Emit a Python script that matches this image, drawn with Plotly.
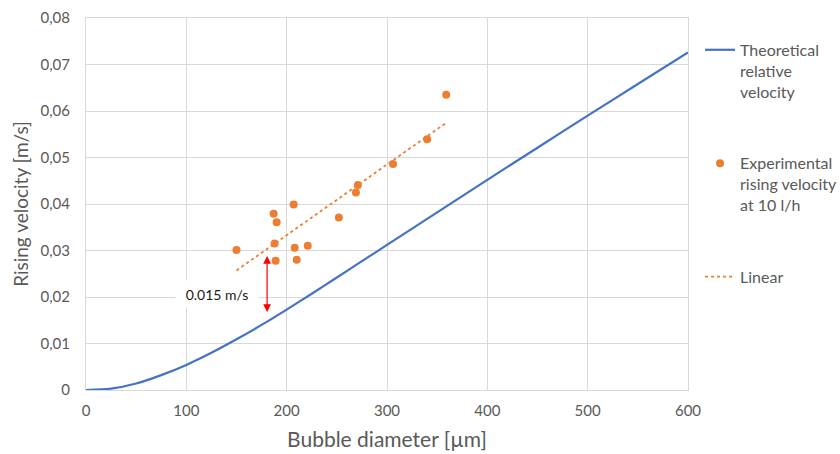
import numpy as np
import plotly.graph_objects as go

# Theoretical relative velocity of a bubble vs. its diameter
theory_d = [0, 25, 50, 75, 100, 125, 150, 175, 200, 225, 250, 275, 300, 350, 400, 450, 500, 550, 600]
theory_v = [0, 0.0003, 0.0014, 0.0032, 0.0054, 0.0080, 0.0109, 0.0140, 0.0173, 0.0207,
            0.0242, 0.0277, 0.0312, 0.0382, 0.0452, 0.0521, 0.0590, 0.0658, 0.0726]

# Measured rising velocities at 10 l/h
exp_d = [150, 187, 190, 188, 189, 207, 208, 210, 221, 252, 269, 271, 306, 340, 359]
exp_v = [0.0301, 0.0379, 0.0361, 0.0315, 0.0278, 0.0399, 0.0306, 0.0280, 0.0310,
         0.0371, 0.0425, 0.0441, 0.0486, 0.0539, 0.0635]

# Axis ticks
x_ticks = [0, 100, 200, 300, 400, 500, 600]
x_tick_labels = ["0", "100", "200", "300", "400", "500", "600"]
y_ticks = [0, 0.01, 0.02, 0.03, 0.04, 0.05, 0.06, 0.07, 0.08]
y_tick_labels = ["0", "0,01", "0,02", "0,03", "0,04", "0,05", "0,06", "0,07", "0,08"]

# Gap annotation between the experimental trend and the theory
gap_d = 180.5
gap_label = "0.015 m/s"

BLUE = "#4472C4"
ORANGE = "#ED7D31"
GREY = "#595959"
GRID = "#D9D9D9"
FONT = "Lato"

# Least-squares linear trend over the measured range
slope, intercept = np.polyfit(exp_d, exp_v, 1)
trend_x = np.array([min(exp_d), max(exp_d)])
trend_y = slope * trend_x + intercept

fig = go.Figure()
fig.add_trace(go.Scatter(
    x=theory_d, y=theory_v, mode="lines",
    line=dict(color=BLUE, width=2.2, shape="spline", smoothing=0.8),
    name="Theoretical<br>relative<br>velocity", legendgroup="a"))
fig.add_trace(go.Scatter(
    x=exp_d, y=exp_v, mode="markers", marker=dict(color=ORANGE, size=8),
    name="Experimental<br>rising velocity<br>at 10 l/h", legendgroup="b"))
fig.add_trace(go.Scatter(
    x=trend_x, y=trend_y, mode="lines", line=dict(color=ORANGE, width=1.8, dash="dot"),
    name="Linear", legendgroup="c"))

gap_top = slope * gap_d + intercept
gap_bottom = float(np.interp(gap_d, theory_d, theory_v))

fig.add_annotation(
    x=gap_d, y=gap_top, ax=gap_d, ay=gap_bottom, xref="x", yref="y", axref="x", ayref="y",
    text="", showarrow=True, arrowhead=2, startarrowhead=2, arrowside="end+start",
    arrowsize=1.3, arrowwidth=1.2, arrowcolor="#FF0000", standoff=7, startstandoff=8)
fig.add_annotation(
    x=130.3, y=0.0206, xref="x", yref="y", text=gap_label, showarrow=False,
    bgcolor="white", width=82, height=26, borderpad=0,
    font=dict(family=FONT, size=14, color="#1a1a1a"))

axis_common = dict(showgrid=True, gridcolor=GRID, gridwidth=1, zeroline=False,
                   showline=True, linecolor=GRID, linewidth=1, mirror=True,
                   tickfont=dict(family=FONT, size=15, color=GREY),
                   ticks="")

fig.update_xaxes(range=[0, 600], tickvals=x_ticks, ticktext=x_tick_labels,
                 title=dict(text="Bubble diameter [µm]", font=dict(family=FONT, size=21, color=GREY),
                            standoff=14),
                 ticklabelstandoff=7, **axis_common)
fig.update_yaxes(range=[0, 0.08], tickvals=y_ticks, ticktext=y_tick_labels,
                 title=dict(text="Rising velocity [m/s]", font=dict(family=FONT, size=19, color=GREY),
                            standoff=6),
                 ticklabelstandoff=12, **axis_common)

fig.update_layout(
    width=840, height=454,
    margin=dict(l=86, r=152, t=18, b=64, autoexpand=False),
    paper_bgcolor="white", plot_bgcolor="white",
    font=dict(family=FONT, color=GREY),
    legend=dict(x=1.02, y=0.96, xanchor="left", yanchor="top", valign="top",
                tracegroupgap=48, font=dict(family=FONT, size=16, color=GREY),
                bgcolor="rgba(0,0,0,0)", itemwidth=30),
    showlegend=True,
)

fig.write_html("out.html")
